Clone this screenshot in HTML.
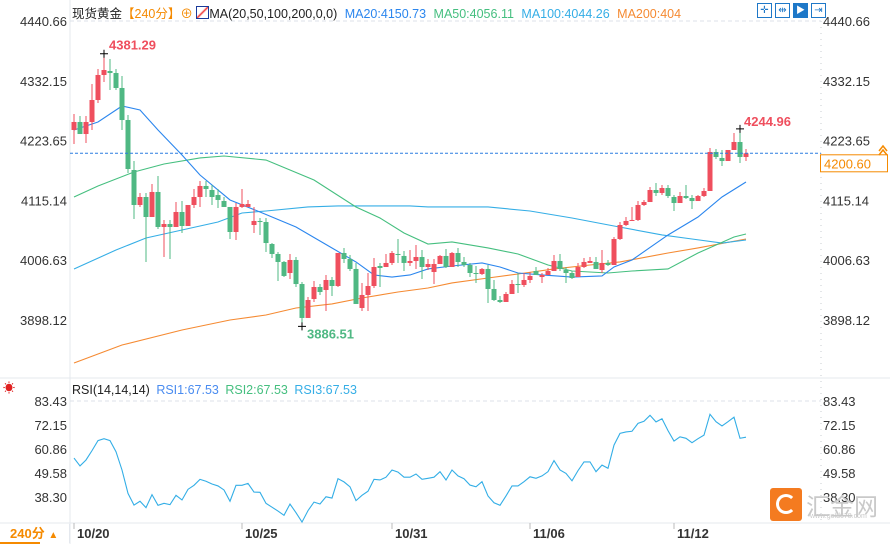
<!DOCTYPE html>
<html><head><meta charset="utf-8">
<style>
body{margin:0;background:#fff;width:890px;height:544px;overflow:hidden;font-family:"Liberation Sans","Noto Sans CJK SC",sans-serif}
svg{position:absolute;left:0;top:0}
</style></head>
<body>
<svg id="c" width="890" height="544" viewBox="0 0 890 544" xmlns="http://www.w3.org/2000/svg"></svg>
<script>
// ---- data ----
const opens=[4242.9,4257.4,4235.6,4257.4,4297.3,4342.7,4349.9,4346.3,4319.1,4261.0,4170.3,4106.8,4121.3,4085.0,4130.4,4066.9,4072.3,4066.9,4094.1,4068.7,4106.8,4121.3,4141.3,4134.0,4124.9,4114.0,4103.2,4057.8,4103.2,4103.2,4070.5,4077.8,4075.9,4036.0,4017.9,4003.4,3983.4,4007.0,3963.4,3901.8,3936.2,3958.0,3952.6,3970.7,3959.8,4019.7,4008.8,3990.7,3919.9,3943.5,3959.8,3996.1,3994.3,4001.6,4017.9,4014.3,4001.6,4005.2,4012.4,3994.3,3985.2,3999.7,4014.3,3994.3,4019.7,4003.4,3997.9,3983.4,3981.6,3990.7,3954.4,3934.4,3930.8,3945.3,3963.4,3961.6,3970.7,3987.0,3976.1,3979.8,3987.0,4005.2,3988.8,3983.4,3976.1,3994.3,4001.6,4003.4,3988.8,4001.6,3997.9,4045.1,4070.5,4077.8,4079.6,4106.8,4112.2,4134.0,4128.6,4137.6,4121.3,4110.4,4123.1,4119.5,4114.0,4123.1,4132.2,4203.0,4192.1,4186.6,4206.6,4221.1,4193.9];
const highs=[4271.9,4268.3,4268.3,4326.3,4353.6,4381.29,4371.7,4353.6,4340.9,4270.1,4186.6,4128.6,4128.6,4144.9,4159.4,4079.6,4079.6,4112.2,4114.0,4106.8,4135.8,4150.3,4150.3,4143.1,4135.8,4121.3,4103.2,4110.4,4135.8,4115.9,4103.2,4083.2,4083.2,4037.8,4021.5,4005.2,4017.9,4012.4,3967.1,3939.9,3968.9,3963.4,3979.8,3976.1,4019.7,4028.8,4016.1,4001.6,3965.3,3983.4,4010.6,4001.6,4017.9,4023.3,4045.1,4023.3,4025.1,4034.2,4025.1,4008.8,4008.8,4016.1,4027.0,4021.5,4028.8,4012.4,4001.6,3996.1,3992.5,3997.9,3970.7,3941.7,3948.9,3970.7,3983.4,3983.4,3985.2,3994.3,3983.4,3992.5,4016.1,4017.9,3994.3,3987.0,4001.6,4010.6,4012.4,4012.4,4025.1,4007.0,4048.7,4075.9,4085.0,4103.2,4114.0,4115.9,4139.5,4146.7,4143.1,4143.1,4124.9,4130.4,4143.1,4124.9,4124.9,4137.6,4210.2,4208.4,4206.6,4206.6,4237.4,4244.96,4208.4];
const lows=[4217.5,4235.6,4219.3,4242.9,4291.9,4330.0,4315.5,4315.5,4242.9,4164.9,4081.4,4103.2,4003.4,4085.0,4063.2,4012.4,4008.8,4066.9,4056.0,4068.7,4101.3,4103.2,4121.3,4106.8,4101.3,4103.2,4045.1,4043.3,4101.3,4103.2,4056.0,4052.4,4021.5,4010.6,3968.9,3976.1,3972.5,3958.0,3886.51,3901.8,3930.8,3943.5,3914.5,3941.7,3958.0,4001.6,3987.0,3927.2,3914.5,3914.5,3956.2,3958.0,3994.3,3997.9,4001.6,3987.0,3996.1,3990.7,3972.5,3988.8,3963.4,3999.7,3992.5,3994.3,3994.3,3994.3,3976.1,3965.3,3979.8,3929.0,3932.6,3929.0,3930.8,3945.3,3947.1,3958.0,3965.3,3979.8,3965.3,3979.8,3987.0,3987.0,3965.3,3972.5,3976.1,3992.5,4001.6,3990.7,3983.4,3996.1,3997.9,4043.3,4068.7,4077.8,4077.8,4105.0,4112.2,4123.1,4124.9,4119.5,4095.9,4110.4,4117.7,4099.5,4114.0,4121.3,4132.2,4190.3,4177.6,4186.6,4206.6,4183.0,4186.6];
const closes=[4257.4,4235.6,4257.4,4297.3,4342.7,4351.7,4346.3,4319.1,4261.0,4172.1,4106.8,4121.3,4085.0,4130.4,4066.9,4072.3,4066.9,4094.1,4068.7,4106.8,4121.3,4141.3,4135.8,4121.3,4115.9,4103.2,4057.8,4103.2,4108.6,4108.6,4077.8,4075.9,4037.8,4017.9,4003.4,3978.0,4007.0,3963.4,3901.8,3934.4,3958.0,3948.9,3970.7,3959.8,4019.7,4008.8,3990.7,3927.2,3943.5,3959.8,3994.3,3992.5,4001.6,4019.7,4016.1,4001.6,4005.2,4012.4,3994.3,3999.7,3999.7,4014.3,3994.3,4019.7,4003.4,3997.9,3983.4,3981.6,3990.7,3954.4,3934.4,3930.8,3945.3,3963.4,3961.6,3970.7,3978.0,3979.8,3979.8,3987.0,4005.2,3990.7,3983.4,3974.3,3994.3,4003.4,4005.2,3990.7,4001.6,3997.9,4045.1,4070.5,4077.8,4079.6,4106.8,4112.2,4134.0,4128.6,4137.6,4123.1,4110.4,4123.1,4119.5,4114.0,4123.1,4132.2,4203.0,4193.9,4186.6,4206.6,4221.1,4193.9,4200.6];
const ma20Idx=[0,4,8,11,14,18,21,26,31,37,43,47,50,53,56,59,63,68,71,74,78,83,88,90,93,99,104,108,112];
const ma20=[4242.9,4257.4,4286.4,4279.2,4242.9,4197.5,4161.2,4115.9,4094.1,4066.9,4028.8,4003.4,3979.8,3976.1,3979.8,3990.7,3996.1,4001.6,3994.3,3983.4,3979.8,3976.1,3978.0,3994.3,4007.0,4052.4,4085.0,4121.3,4148.5];
const ma50Idx=[0,4,10,15,21,25,32,40,47,51,55,59,63,69,74,79,83,89,93,99,104,110,112];
const ma50=[4121.3,4141.3,4166.7,4181.2,4192.1,4195.7,4188.4,4152.1,4103.2,4083.2,4056.0,4036.0,4039.7,4028.8,4017.9,3997.9,3987.0,3983.4,3987.0,3990.7,4019.7,4048.7,4054.2];
const ma100Idx=[0,7,12,18,24,28,32,39,44,56,59,69,76,83,90,98,103,108,112];
const ma100=[3990.7,4025.1,4046.9,4061.4,4075.9,4092.3,4095.9,4103.2,4105.0,4105.0,4103.2,4103.2,4095.9,4083.2,4068.7,4052.4,4045.1,4037.8,4043.3];
const ma200Idx=[0,8,18,26,32,37,43,48,54,59,63,69,74,80,86,91,99,104,112];
const ma200=[3820.1,3852.7,3880.0,3898.1,3907.2,3919.9,3927.2,3938.0,3948.9,3956.2,3965.3,3974.3,3981.6,3990.7,3997.9,4003.4,4019.7,4028.8,4045.1];
const rsi=[56.6,52.9,55.7,60.1,64.8,65.7,64.8,59.6,51.0,40.0,34.5,36.3,33.3,39.4,34.4,35.3,34.7,39.1,36.9,41.9,43.8,46.6,45.7,44.4,43.5,41.6,36.3,43.8,43.8,44.7,40.6,40.5,35.3,33.5,31.7,29.7,35.0,30.9,26.5,31.9,35.9,35.0,38.4,37.8,46.9,45.4,43.1,36.6,39.1,41.0,46.6,46.3,47.6,51.0,50.0,47.6,47.6,49.1,46.6,47.1,47.6,50.2,46.3,51.0,48.2,46.9,43.9,43.1,45.5,38.8,35.6,34.4,38.8,43.5,43.5,45.5,47.8,47.1,48.2,50.2,55.4,51.0,49.4,45.9,50.7,54.8,54.8,50.2,53.3,51.8,62.7,68.2,68.9,69.2,72.9,73.9,76.7,73.6,75.1,69.5,64.6,66.6,65.9,63.8,65.7,67.4,77.2,73.7,71.7,73.7,75.8,65.9,66.4];
const priceTicks=[4440.66,4332.15,4223.65,4115.14,4006.63,3898.12];
const rsiTicks=[83.43,72.15,60.86,49.58,38.30];
const dateLabels=["10/20","10/25","10/31","11/06","11/12"];
const dateIdx=[0,28,53,76,100];

// ---- axes ----
const PTOP=4440.66, PPX=0.5511, RTOP=83.43, RPX=2.127;
const X=k=>74+6*k;
const Y=p=>21+(PTOP-p)*PPX;
const RY=r=>401+(RTOP-r)*RPX;
const svg=document.getElementById('c');
const NS='http://www.w3.org/2000/svg';
function mk(tag,attrs,parent){const e=document.createElementNS(NS,tag);for(const k in attrs)e.setAttribute(k,attrs[k]);(parent||svg).appendChild(e);return e;}
function txt(s,attrs){const e=mk('text',attrs);e.textContent=s;return e;}

// frame lines
let l;
l=mk('line',{x1:70,y1:0,x2:70,y2:544,stroke:'#e4e8ee'});

l=mk('line',{x1:821,y1:21,x2:821,y2:523,stroke:'#c8ccd2','stroke-dasharray':'1,5'});

l=mk('line',{x1:0,y1:378,x2:890,y2:378,stroke:'#e4e8ee'});

l=mk('line',{x1:0,y1:523,x2:890,y2:523,stroke:'#e4e8ee'});

l=mk('line',{x1:70,y1:21,x2:821,y2:21,stroke:'#dde2e8','stroke-dasharray':'4,3'});

l=mk('line',{x1:70,y1:401,x2:821,y2:401,stroke:'#dde2e8','stroke-dasharray':'4,3'});


// price ticks
priceTicks.forEach(p=>{
  let t=txt(p.toFixed(2),{x:67,y:Y(p)+5,'font-size':13,fill:'#333','text-anchor':'end'});
  
  t=txt(p.toFixed(2),{x:823,y:Y(p)+5,'font-size':13,fill:'#333'});
  
});
rsiTicks.forEach(r=>{
  let t=txt(r.toFixed(2),{x:67,y:RY(r)+5,'font-size':13,fill:'#333','text-anchor':'end'});
  
  t=txt(r.toFixed(2),{x:823,y:RY(r)+5,'font-size':13,fill:'#333'});
  
});
dateLabels.forEach((d,i)=>{
  const x=X(dateIdx[i]);
  let tk=mk('line',{x1:x,y1:523,x2:x,y2:529,stroke:'#bbb'});
  
  let t=txt(d,{x:x+3,y:538,'font-size':13,'font-weight':'bold',fill:'#333'});
  
});

// MA lines
function maLine(idx,vals,color,name){
  const pts=idx.map((k,i)=>X(k)+','+Y(vals[i])).join(' ');
  const e=mk('polyline',{points:pts,fill:'none',stroke:color,'stroke-width':1.1});
  
}
maLine(ma200Idx,ma200,'#f58a32','ma200-line');
maLine(ma100Idx,ma100,'#35aee6','ma100-line');
maLine(ma50Idx,ma50,'#45bf7f','ma50-line');
maLine(ma20Idx,ma20,'#2b86ee','ma20-line');

// candles
opens.forEach((o,k)=>{
  const c=closes[k],up=c>=o,col=up?'#ef4f5e':'#4fb883';
  const x=X(k);
  const w=mk('line',{x1:x,y1:Y(highs[k]),x2:x,y2:Y(lows[k]),stroke:col,'stroke-width':1});
  
  const t=Y(Math.max(o,c)),b=Y(Math.min(o,c));
  const r=mk('rect',{x:x-2.5,y:t,width:5,height:Math.max(1,b-t),fill:col});
  
});

// current price line
const last=closes[closes.length-1];
l=mk('line',{x1:70,y1:Y(last),x2:821,y2:Y(last),stroke:'#2b7de0','stroke-dasharray':'3,2'});

let bx=mk('rect',{x:820.5,y:Y(last)+1.5,width:67,height:17,fill:'#fff',stroke:'#f58a00'});

let bt=txt(last.toFixed(2),{x:824,y:Y(last)+15,'font-size':13,fill:'#f58a00'});

let ar=mk('path',{d:'M879 151 L883 146 L887 151 M879 155 L883 150 L887 155',stroke:'#f58a00',fill:'none','stroke-width':1.5});


// hi/lo markers
function marker(k,p,label,color,dx,dy){
  const x=X(k),y=Y(p);
  const m=mk('path',{d:`M${x-4} ${y} H${x+4} M${x} ${y-4} V${y+4}`,stroke:'#000','stroke-width':1});
  
  const t=txt(label,{x:x+dx,y:y+dy,'font-size':13,'font-weight':'bold',fill:color});
  
}
marker(5,4381.29,'4381.29','#ef4f5e',5,-4);
marker(38,3886.51,'3886.51','#4fb883',5,12);
marker(111,4244.96,'4244.96','#ef4f5e',4,-3);

// RSI
const rp=rsi.map((r,k)=>X(k)+','+RY(r)).join(' ');
let rl=mk('polyline',{points:rp,fill:'none',stroke:'#33aee6','stroke-width':1.1});

</script>

<div style="position:absolute;left:72px;top:3px;font-size:12.5px;white-space:nowrap;color:#222">
<span>现货黄金</span><span style="color:#f58a00">【240分】</span><span style="color:#f58a00">⊕</span>
<span style="display:inline-block;width:11px;height:11px;border:1px solid #1a3a9a;background:linear-gradient(135deg,#fff 40%,#e33 50%,#fff 60%);vertical-align:-1px"></span><span>MA(20,50,100,200,0,0)</span>
<span style="color:#2b86ee;margin-left:4px">MA20:4150.73</span>
<span style="color:#45bf7f;margin-left:4px">MA50:4056.11</span>
<span style="color:#35aee6;margin-left:4px">MA100:4044.26</span>
<span style="color:#f58a32;margin-left:4px">MA200:404</span>
</div>

<div style="position:absolute;left:757px;top:3px;display:flex;gap:3px">
<div style="width:13px;height:13px;border:1px solid #1e78c8;color:#1e78c8;font-size:10px;line-height:13px;text-align:center">✛</div>
<div style="width:13px;height:13px;border:1px solid #1e78c8;color:#1e78c8;font-size:10px;line-height:13px;text-align:center">⇹</div>
<div style="width:13px;height:13px;border:1px solid #1e78c8;background:#1e78c8;color:#fff;font-size:9px;line-height:13px;text-align:center">▶</div>
<div style="width:13px;height:13px;border:1px solid #1e78c8;color:#1e78c8;font-size:10px;line-height:13px;text-align:center">⇥</div>
</div>

<div style="position:absolute;left:72px;top:383px;font-size:12.5px;white-space:nowrap;color:#222">
<span>RSI(14,14,14)</span>
<span style="color:#4a8cf0;margin-left:3px">RSI1:67.53</span>
<span style="color:#45bf7f;margin-left:3px">RSI2:67.53</span>
<span style="color:#35aee6;margin-left:3px">RSI3:67.53</span>
</div>
<div style="position:absolute;left:3px;top:379px;color:#e02020;font-size:12px">☀</div>

<div style="position:absolute;left:0;top:524px;width:69px;height:19px;border-right:1px solid #e4e8ee;color:#f58a00;font-size:13px;font-weight:bold;line-height:19px;text-indent:10px">240分 <span style="font-size:10px">▲</span></div>
<div style="position:absolute;left:0;top:542px;width:40px;height:2px;background:#f58a00"></div>

<div style="position:absolute;left:770px;top:488px;width:32px;height:33px;background:#f47b20;border-radius:3px">
<div style="position:absolute;left:6px;top:6px;width:20px;height:20px;border-radius:50%;border:3px solid #fff;box-sizing:border-box;border-right-color:transparent"></div></div>
<div style="position:absolute;left:806px;top:487px;font-size:24px;color:#c9c9c9;font-family:'Liberation Sans','Noto Sans CJK SC',sans-serif">汇金网</div>
<div style="position:absolute;left:810px;top:513px;font-size:7px;color:#c9c9c9">www.gold678.com</div>
</body></html>
